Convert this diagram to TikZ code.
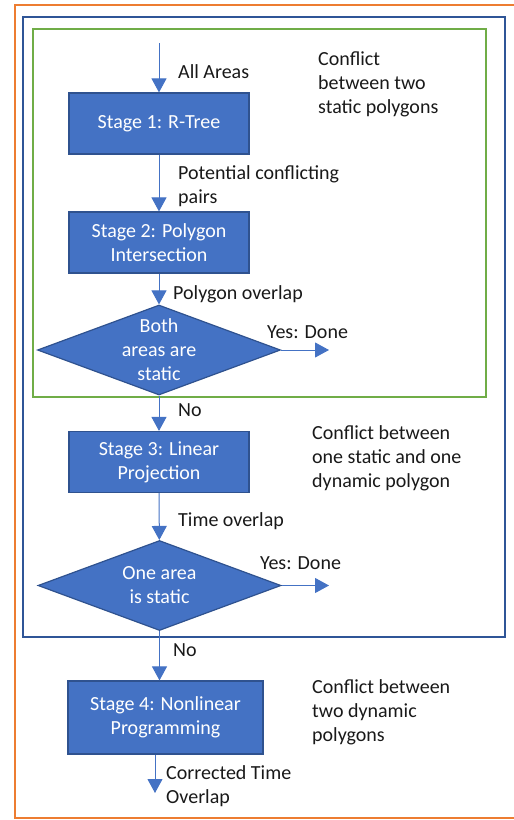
\documentclass[tikz,border=0pt]{standalone}
\usepackage{fontspec}
\setmainfont{Carlito}
\usetikzlibrary{arrows.meta,shapes.geometric,positioning}
\definecolor{boxblue}{HTML}{4472C4}
\definecolor{boxedge}{HTML}{2F528F}
\definecolor{frameorange}{HTML}{ED7D31}
\definecolor{frameblue}{HTML}{2F5597}
\definecolor{framegreen}{HTML}{70AD47}
\tikzset{
	stage/.style = {rectangle, draw=boxedge, line width=1.2pt, fill=boxblue,
		text=white, align=center, minimum width=180pt, minimum height=61pt, inner sep=0},
	decision/.style = {diamond, draw=boxedge, line width=1.2pt, fill=boxblue,
		minimum width=243pt, minimum height=90pt, inner sep=0,
		label = {[text=white, align=center, inner sep=0]center:#1}},
	flow/.style = {draw=boxblue, line width=1pt, -{Triangle[width=15pt,length=14pt]}},
	note/.style = {anchor=west, align=left, inner sep=0, text=black!90},
	frame/.style = {line width=2.5pt, draw=#1},
}

\begin{document}
\begin{tikzpicture}[x=1pt, y=1pt, font=\fontsize{20}{24}\selectfont]
\useasboundingbox (0,0) rectangle (514,-820);
% frames
\draw[frame=frameorange] (514,-5) -- (15,-5) -- (15,-818) -- (514,-818);
\draw[frame=frameblue] (23,-17) rectangle (505,-637);
\draw[frame=framegreen] (33,-29) rectangle (486,-397);

% stages and decisions
\node[stage] (s1) at (159,-123.5) {Stage 1: R-Tree};
\node[stage] (s2) at (159,-242.5) {Stage 2: Polygon\\Intersection};
\node[decision={Both\\areas are\\static}] (d1) at (159,-350) {};
\node[stage] (s3) at (159,-462) {Stage 3: Linear\\Projection};
\node[decision={One area\\is static}] (d2) at (159.5,-585.5) {};
\node[stage, minimum width=195pt, minimum height=73pt] (s4) at (165.5,-717.5)
	{Stage 4: Nonlinear\\Programming};

% free ends
\coordinate (in) at (159,-43);
\coordinate (yes1) at (329,-350);
\coordinate (yes2) at (329,-585.5);
\coordinate (out) at (155,-793);

% connectors
\draw[flow] (in) -- (s1);
\draw[flow] (s1) -- (s2);
\draw[flow] (s2) -- (d1);
\draw[flow] (d1) -- (s3);
\draw[flow] (s3) -- (d2);
\draw[flow] (d2.south) -- (d2.south |- s4.north);
\draw[flow] (s4.south -| out) -- (out);
\draw[flow] (d1.east) -- (yes1);
\draw[flow] (d2.east) -- (yes2);

% connector labels
\node[note] (lin) at (178,-72) {All Areas};
\node[note] (lpairs) at (178,-186.5) {Potential conflicting\\pairs};
\node[note] (lpoly) at (173,-294) {Polygon overlap};
\node[note] (lyes1) at (267,-332) {Yes: Done};
\node[note] (lno1) at (178,-410) {No};
\node[note] (ltime) at (178,-521) {Time overlap};
\node[note] (lyes2) at (260,-563) {Yes: Done};
\node[note] (lno2) at (173,-650) {No};
\node[note] (lout) at (166,-786.5) {Corrected Time\\Overlap};

% side comments
\node[note] (c1) at (318,-84) {Conflict\\between two\\static polygons};
\node[note] (c2) at (312,-458) {Conflict between\\one static and one\\dynamic polygon};
\node[note] (c3) at (312,-712) {Conflict between\\two dynamic\\polygons};
\end{tikzpicture}
\end{document}
